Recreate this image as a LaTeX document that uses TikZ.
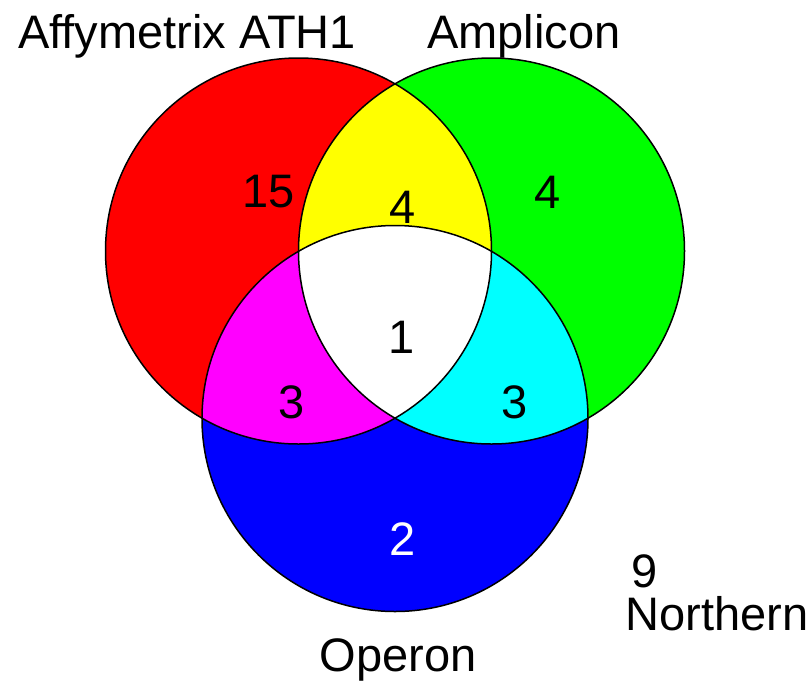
\documentclass[tikz,border=0pt]{standalone}
\usepackage{fontspec}
\setmainfont{Liberation Sans}
\definecolor{vRed}{RGB}{255,0,0}
\definecolor{vGreen}{RGB}{0,255,0}
\definecolor{vBlue}{RGB}{0,0,255}
\definecolor{vYellow}{RGB}{255,255,0}
\definecolor{vMagenta}{RGB}{255,0,255}
\definecolor{vCyan}{RGB}{0,255,255}
\definecolor{vWhite}{RGB}{255,255,255}
\definecolor{vBlack}{RGB}{0,0,0}
\begin{document}
\begin{tikzpicture}[x=1pt,y=-1pt,
  lbl/.style={anchor=base,inner sep=0pt,text=vBlack,font=\fontsize{47}{56}\selectfont},
  ring/.style={draw=vBlack,line width=1.5pt}]
\useasboundingbox (0,0) rectangle (810,681);
\coordinate (cR) at (298.5,251);
\coordinate (cG) at (491.5,251);
\coordinate (cB) at (395,418.5);
\def\rr{193pt}
% single regions
\fill[vRed] (cR) circle[radius=\rr];
\fill[vGreen] (cG) circle[radius=\rr];
\fill[vBlue] (cB) circle[radius=\rr];
% pairwise
\begin{scope}
  \clip (cR) circle[radius=\rr];
  \fill[vYellow] (cG) circle[radius=\rr];
  \fill[vMagenta] (cB) circle[radius=\rr];
\end{scope}
\begin{scope}
  \clip (cG) circle[radius=\rr];
  \fill[vCyan] (cB) circle[radius=\rr];
\end{scope}
\begin{scope}
  \clip (cR) circle[radius=\rr];
  \clip (cG) circle[radius=\rr];
  \fill[vWhite] (cB) circle[radius=\rr];
\end{scope}
% outlines
\draw[ring] (cR) circle[radius=\rr];
\draw[ring] (cG) circle[radius=\rr];
\draw[ring] (cB) circle[radius=\rr];
% labels
\node[lbl] (tA) at (187,48) {Affymetrix ATH1};
\node[lbl] (tB) at (524,48) {Amplicon};
\node[lbl] (tC) at (398,671) {Operon};
\node[lbl] (tN) at (717,630) {Northern};
\node[lbl] (n9) at (645,587) {9};
\node[lbl] (n15) at (269,207) {15};
\node[lbl] (n4y) at (403,223) {4};
\node[lbl] (n4g) at (548,208) {4};
\node[lbl] (n1) at (402,353) {1};
\node[lbl] (n3m) at (292,418) {3};
\node[lbl] (n3c) at (515,418) {3};
\node[lbl,text=vWhite] (n2) at (403,555) {2};
\end{tikzpicture}
\end{document}
